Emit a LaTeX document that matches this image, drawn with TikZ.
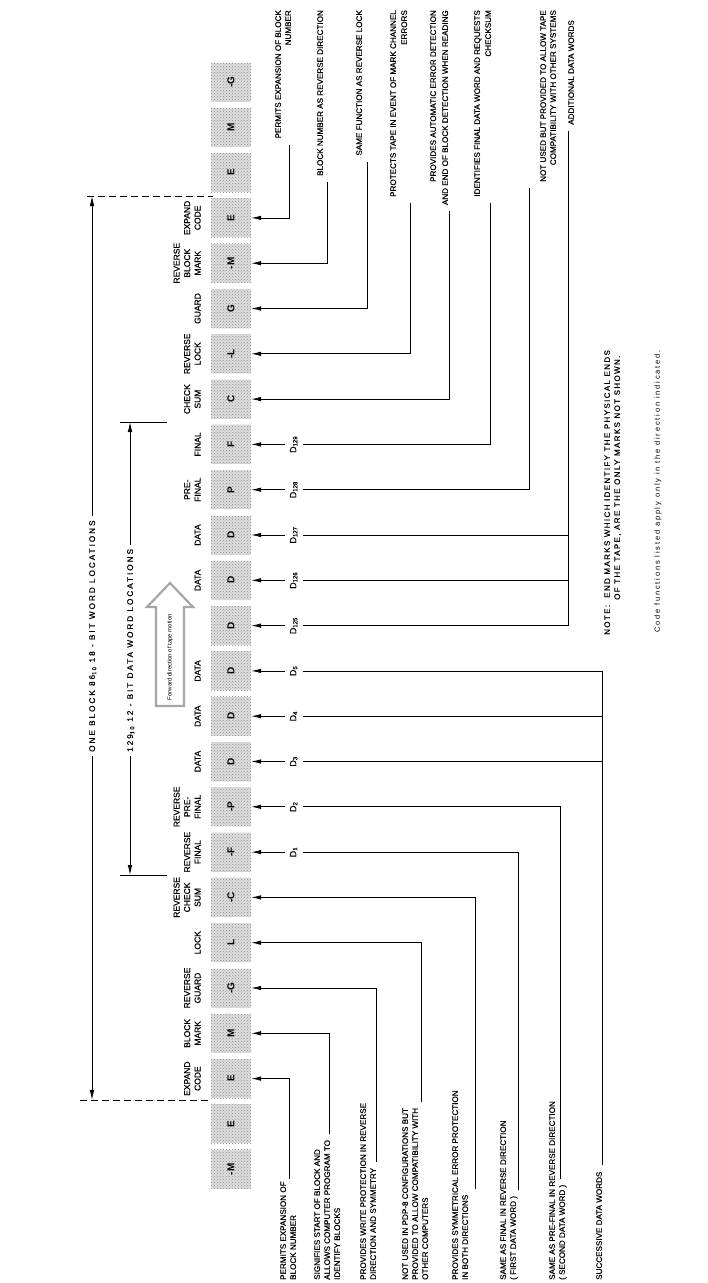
\documentclass[tikz,border=0pt]{standalone}
\usepackage{fontspec}
\setmainfont{Liberation Sans}
\newfontfamily\descff[WordSpace=1.6,FakeBold=0.6]{Liberation Sans}
\newfontfamily\colff[FakeBold=0.6]{Liberation Sans}
\newfontfamily\noteff[LetterSpace=17,FakeBold=0.6]{Liberation Sans}
\newfontfamily\headff[LetterSpace=24,FakeBold=0.6]{Liberation Sans}
\newfontfamily\codeff[LetterSpace=24]{Liberation Sans}
\usetikzlibrary{arrows.meta,calc,patterns}
\tikzset{
  ln/.style={line width=0.8pt},
  arr/.style={line width=0.8pt,-{Latex[length=10pt,width=4.5pt]}},
  cell/.style={rotate=90,minimum width=39pt,minimum height=40pt,inner sep=0pt,
    preaction={fill=black!13},pattern={crosshatch dots},pattern color=black!45,
    font=\bfseries\fontsize{10}{11}\selectfont},
  col/.style={rotate=90,anchor=south,align=center,inner sep=0pt,font=\colff\fontsize{8.5}{10.5}\selectfont},
  dlab/.style={rotate=90,inner xsep=1pt,inner ysep=4.5pt,text height=6.5pt,text depth=2.5pt,font=\colff\fontsize{9}{10}\selectfont},
  dtop/.style={rotate=90,anchor=east,inner sep=0pt,text height=5.9pt,text depth=0pt,font=\descff\fontsize{8.1}{10}\selectfont},
  dbot/.style={rotate=90,anchor=west,inner sep=0pt,text height=5.9pt,text depth=0pt,font=\descff\fontsize{8.1}{10}\selectfont},
  head/.style={rotate=90,anchor=west,inner xsep=4pt,inner ysep=0pt,text height=5.9pt,text depth=0pt,font=\headff\fontsize{8.2}{10}\selectfont},
  note/.style={rotate=90,anchor=west,inner sep=0pt,text height=5.9pt,text depth=0pt,font=\noteff\fontsize{8}{10}\selectfont},
  codenote/.style={rotate=90,anchor=west,inner sep=0pt,font=\codeff\fontsize{7.5}{9}\selectfont},
  dim/.style={line width=0.8pt},
  dashline/.style={line width=0.8pt,dash pattern=on 7pt off 4pt},
}
\begin{document}
\begin{tikzpicture}[x=1pt,y=-1pt]
\useasboundingbox (0,0) rectangle (708,1283);
\fill[white] (0,0) rectangle (708,1283);

% tape cells
\foreach \t [count=\i] in {-G,M,E,E,-M,G,-L,C,F,P,D,D,D,D,D,D,-P,-F,-C,L,-G,M,E,E,-M}{
  \node[cell] (c\i) at (231,{82+(\i-1)*45.3}) {\t};
}

% column labels
\node[col] (l4) at ([xshift=-10pt]c4.north) {EXPAND\\CODE};
\node[col] (l5) at ([xshift=-10pt]c5.north) {REVERSE\\BLOCK\\MARK};
\node[col] (l6) at ([xshift=-10pt]c6.north) {GUARD};
\node[col] (l7) at ([xshift=-10pt]c7.north) {REVERSE\\LOCK};
\node[col] (l8) at ([xshift=-10pt]c8.north) {CHECK\\SUM};
\node[col] (l9) at ([xshift=-10pt]c9.north) {FINAL};
\node[col] (l10) at ([xshift=-10pt]c10.north) {PRE-\\FINAL};
\node[col] (l11) at ([xshift=-10pt]c11.north) {DATA};
\node[col] (l12) at ([xshift=-10pt]c12.north) {DATA};
\node[col] (l14) at ([xshift=-10pt]c14.north) {DATA};
\node[col] (l15) at ([xshift=-10pt]c15.north) {DATA};
\node[col] (l16) at ([xshift=-10pt]c16.north) {DATA};
\node[col] (l17) at ([xshift=-10pt]c17.north) {REVERSE\\PRE-\\FINAL};
\node[col] (l18) at ([xshift=-10pt]c18.north) {REVERSE\\FINAL};
\node[col] (l19) at ([xshift=-10pt]c19.north) {REVERSE\\CHECK\\SUM};
\node[col] (l20) at ([xshift=-10pt]c20.north) {LOCK};
\node[col] (l21) at ([xshift=-10pt]c21.north) {REVERSE\\GUARD};
\node[col] (l22) at ([xshift=-10pt]c22.north) {BLOCK\\MARK};
\node[col] (l23) at ([xshift=-10pt]c23.north) {EXPAND\\CODE};

% data word labels
\node[dlab] (d9) at ([xshift=43pt]c9.south) {D\textsubscript{129}};
\node[dlab] (d10) at ([xshift=43pt]c10.south) {D\textsubscript{128}};
\node[dlab] (d11) at ([xshift=43pt]c11.south) {D\textsubscript{127}};
\node[dlab] (d12) at ([xshift=43pt]c12.south) {D\textsubscript{126}};
\node[dlab] (d13) at ([xshift=43pt]c13.south) {D\textsubscript{125}};
\node[dlab] (d14) at ([xshift=43pt]c14.south) {D\textsubscript{5}};
\node[dlab] (d15) at ([xshift=43pt]c15.south) {D\textsubscript{4}};
\node[dlab] (d16) at ([xshift=43pt]c16.south) {D\textsubscript{3}};
\node[dlab] (d17) at ([xshift=43pt]c17.south) {D\textsubscript{2}};
\node[dlab] (d18) at ([xshift=43pt]c18.south) {D\textsubscript{1}};
\foreach \i in {9,...,18}{ \draw[arr] (d\i.north) -- (c\i.south); }

% dimension lines
\coordinate (o1) at (92,196);
\coordinate (o2) at (92,1100);
\coordinate (q1a) at (87,196);  \coordinate (q1b) at (213,196);
\coordinate (q2a) at (80,1100); \coordinate (q2b) at (211,1100);
\draw[dashline] (q1a) -- (q1b);
\draw[dashline] (q2a) -- (q2b);
\node[head] (h1) at (92,756) {ONE BLOCK 86\textsubscript{10} 18 - BIT WORD LOCATIONS};
\draw[arr] (h1.east) -- (o1);
\draw[arr] (h1.west) -- (o2);
\coordinate (p1) at (130,422); \coordinate (p2) at (130,875);
\coordinate (t1a) at (120,422); \coordinate (t1b) at (167,422);
\coordinate (t2a) at (120,875); \coordinate (t2b) at (167,875);
\draw[dim] (t1a) -- (t1b);
\draw[dim] (t2a) -- (t2b);
\node[head] (h2) at (130,756) {129\textsubscript{10} 12 - BIT DATA WORD LOCATIONS};
\draw[arr] (h2.east) -- (p1);
\draw[arr] (h2.west) -- (p2);

% forward direction arrow
\draw[line width=2.2pt,draw=black!35,line join=miter]
  (170,583) -- (193,607) -- (184,607) -- (184,706) -- (156,706) -- (156,607) -- (147,607) -- cycle;
\node[rotate=90,inner sep=0pt,font=\fontsize{6}{7}\selectfont] (fwd) at (170,657) {Forward direction of tape motion};

% leader x positions, top group
\coordinate (k1) at (289,0); \coordinate (k2) at (327,0); \coordinate (k3) at (367,0);
\coordinate (k4) at (410,0); \coordinate (k5) at (449,0); \coordinate (k6) at (490,0);
\coordinate (k7) at (529,0); \coordinate (k8) at (568,0);

% top group texts
\node[dtop] (r1a) at (278,10) {PERMITS EXPANSION OF BLOCK};
\node[dtop] (r1b) at (288,10) {NUMBER};
\node[dtop] (r2) at (320,10) {BLOCK NUMBER AS REVERSE DIRECTION};
\node[dtop] (r3) at (359,10) {SAME FUNCTION AS REVERSE LOCK};
\node[dtop] (r4a) at (393,10) {PROTECTS TAPE IN EVENT OF MARK CHANNEL};
\node[dtop] (r4b) at (404,10) {ERRORS};
\node[dtop] (r5a) at (433,10) {PROVIDES AUTOMATIC ERROR DETECTION};
\node[dtop] (r5b) at (445,10) {AND END OF BLOCK DETECTION WHEN READING};
\node[dtop] (r6a) at (477,10) {IDENTIFIES FINAL DATA WORD AND REQUESTS};
\node[dtop] (r6b) at (488,10) {CHECKSUM};
\node[dtop] (r7a) at (543,10) {NOT USED BUT PROVIDED TO ALLOW TAPE};
\node[dtop] (r7b) at (553,10) {COMPATIBILITY WITH OTHER SYSTEMS};
\node[dtop] (r8) at (571,20) {ADDITIONAL DATA WORDS};

\path ([yshift=-6pt]r1a.west) coordinate (e1);
\path ([yshift=-6pt]r2.west) coordinate (e2);
\path ([yshift=-6pt]r3.west) coordinate (e3);
\path ([yshift=-6pt]r4a.west) coordinate (e4);
\path ([yshift=-6pt]r5b.west) coordinate (e5);
\path ([yshift=-6pt]r6a.west) coordinate (e6);
\path ([yshift=-6pt]r7a.west) coordinate (e7);
\path ([yshift=-6pt]r8.west) coordinate (e8);

\draw[arr] (e1 -| k1) |- (c4.south);
\draw[arr] (e2 -| k2) |- (c5.south);
\draw[arr] (e3 -| k3) |- (c6.south);
\draw[arr] (e4 -| k4) |- (c7.south);
\draw[arr] (e5 -| k5) |- (c8.south);
\draw[ln] (d9.south) -| (e6 -| k6);
\draw[ln] (d10.south) -| (e7 -| k7);
\draw[ln] (d13.south) -| (e8 -| k8);
\draw[ln] (d12.south) -- (d12.south -| k8);
\draw[ln] (d11.south) -- (d11.south -| k8);

% leader x positions, bottom group
\coordinate (m1) at (289,0); \coordinate (m2) at (329,0); \coordinate (m3) at (376,0);
\coordinate (m4) at (421,0); \coordinate (m5) at (475,0); \coordinate (m6) at (518,0);
\coordinate (m7) at (560,0); \coordinate (m8) at (602,0);

% bottom group texts
\node[dbot] (b1a) at (283,1280) {PERMITS EXPANSION OF};
\node[dbot] (b1b) at (293,1280) {BLOCK NUMBER};
\node[dbot] (b2a) at (317,1280) {SIGNIFIES START OF BLOCK AND};
\node[dbot] (b2b) at (327,1280) {ALLOWS COMPUTER PROGRAM TO};
\node[dbot] (b2c) at (337,1280) {IDENTIFY BLOCKS};
\node[dbot] (b3a) at (363,1280) {PROVIDES WRITE PROTECTION IN REVERSE};
\node[dbot] (b3b) at (373,1280) {DIRECTION AND SYMMETRY};
\node[dbot] (b4a) at (405,1280) {NOT USED IN PDP-8 CONFIGURATIONS BUT};
\node[dbot] (b4b) at (415,1280) {PROVIDED TO ALLOW COMPATIBILITY WITH};
\node[dbot] (b4c) at (425,1280) {OTHER COMPUTERS};
\node[dbot] (b5a) at (455,1280) {PROVIDES SYMMETRICAL ERROR PROTECTION};
\node[dbot] (b5b) at (465,1280) {IN BOTH DIRECTIONS};
\node[dbot] (b6a) at (503,1280) {SAME AS FINAL IN REVERSE DIRECTION};
\node[dbot] (b6b) at (513,1280) {( FIRST DATA WORD )};
\node[dbot] (b7a) at (552,1280) {SAME AS PRE-FINAL IN REVERSE DIRECTION};
\node[dbot] (b7b) at (562,1280) {( SECOND DATA WORD )};
\node[dbot] (b8) at (599,1280) {SUCCESSIVE DATA WORDS};

\path ([yshift=2pt]b1a.east) coordinate (f1);
\path ([yshift=6pt]b2b.east) coordinate (f2);
\path ([yshift=6pt]b3b.east) coordinate (f3);
\path ([yshift=6pt]b4b.east) coordinate (f4);
\path ([yshift=6pt]b5b.east) coordinate (f5);
\path ([yshift=6pt]b6b.east) coordinate (f6);
\path ([yshift=6pt]b7b.east) coordinate (f7);
\path ([yshift=6pt]b8.east) coordinate (f8);

\draw[arr] (f1 -| m1) |- (c23.south);
\draw[arr] (f2 -| m2) |- (c22.south);
\draw[arr] (f3 -| m3) |- (c21.south);
\draw[arr] (f4 -| m4) |- (c20.south);
\draw[arr] (f5 -| m5) |- (c19.south);
\draw[ln] (d18.south) -| (f6 -| m6);
\draw[ln] (d17.south) -| (f7 -| m7);
\draw[ln] (d14.south) -| (f8 -| m8);
\draw[ln] (d15.south) -- (d15.south -| m8);
\draw[ln] (d16.south) -- (d16.south -| m8);

% notes
\node[note] (n1) at (607,635) {NOTE:\ \ END MARKS WHICH IDENTIFY THE PHYSICAL ENDS};
\node[note] (n2) at (617,600) {OF THE TAPE, ARE THE ONLY MARKS NOT SHOWN.};
\node[codenote] (n3) at (658,633) {Code functions listed apply only in the direction indicated.};
\end{tikzpicture}
\end{document}
